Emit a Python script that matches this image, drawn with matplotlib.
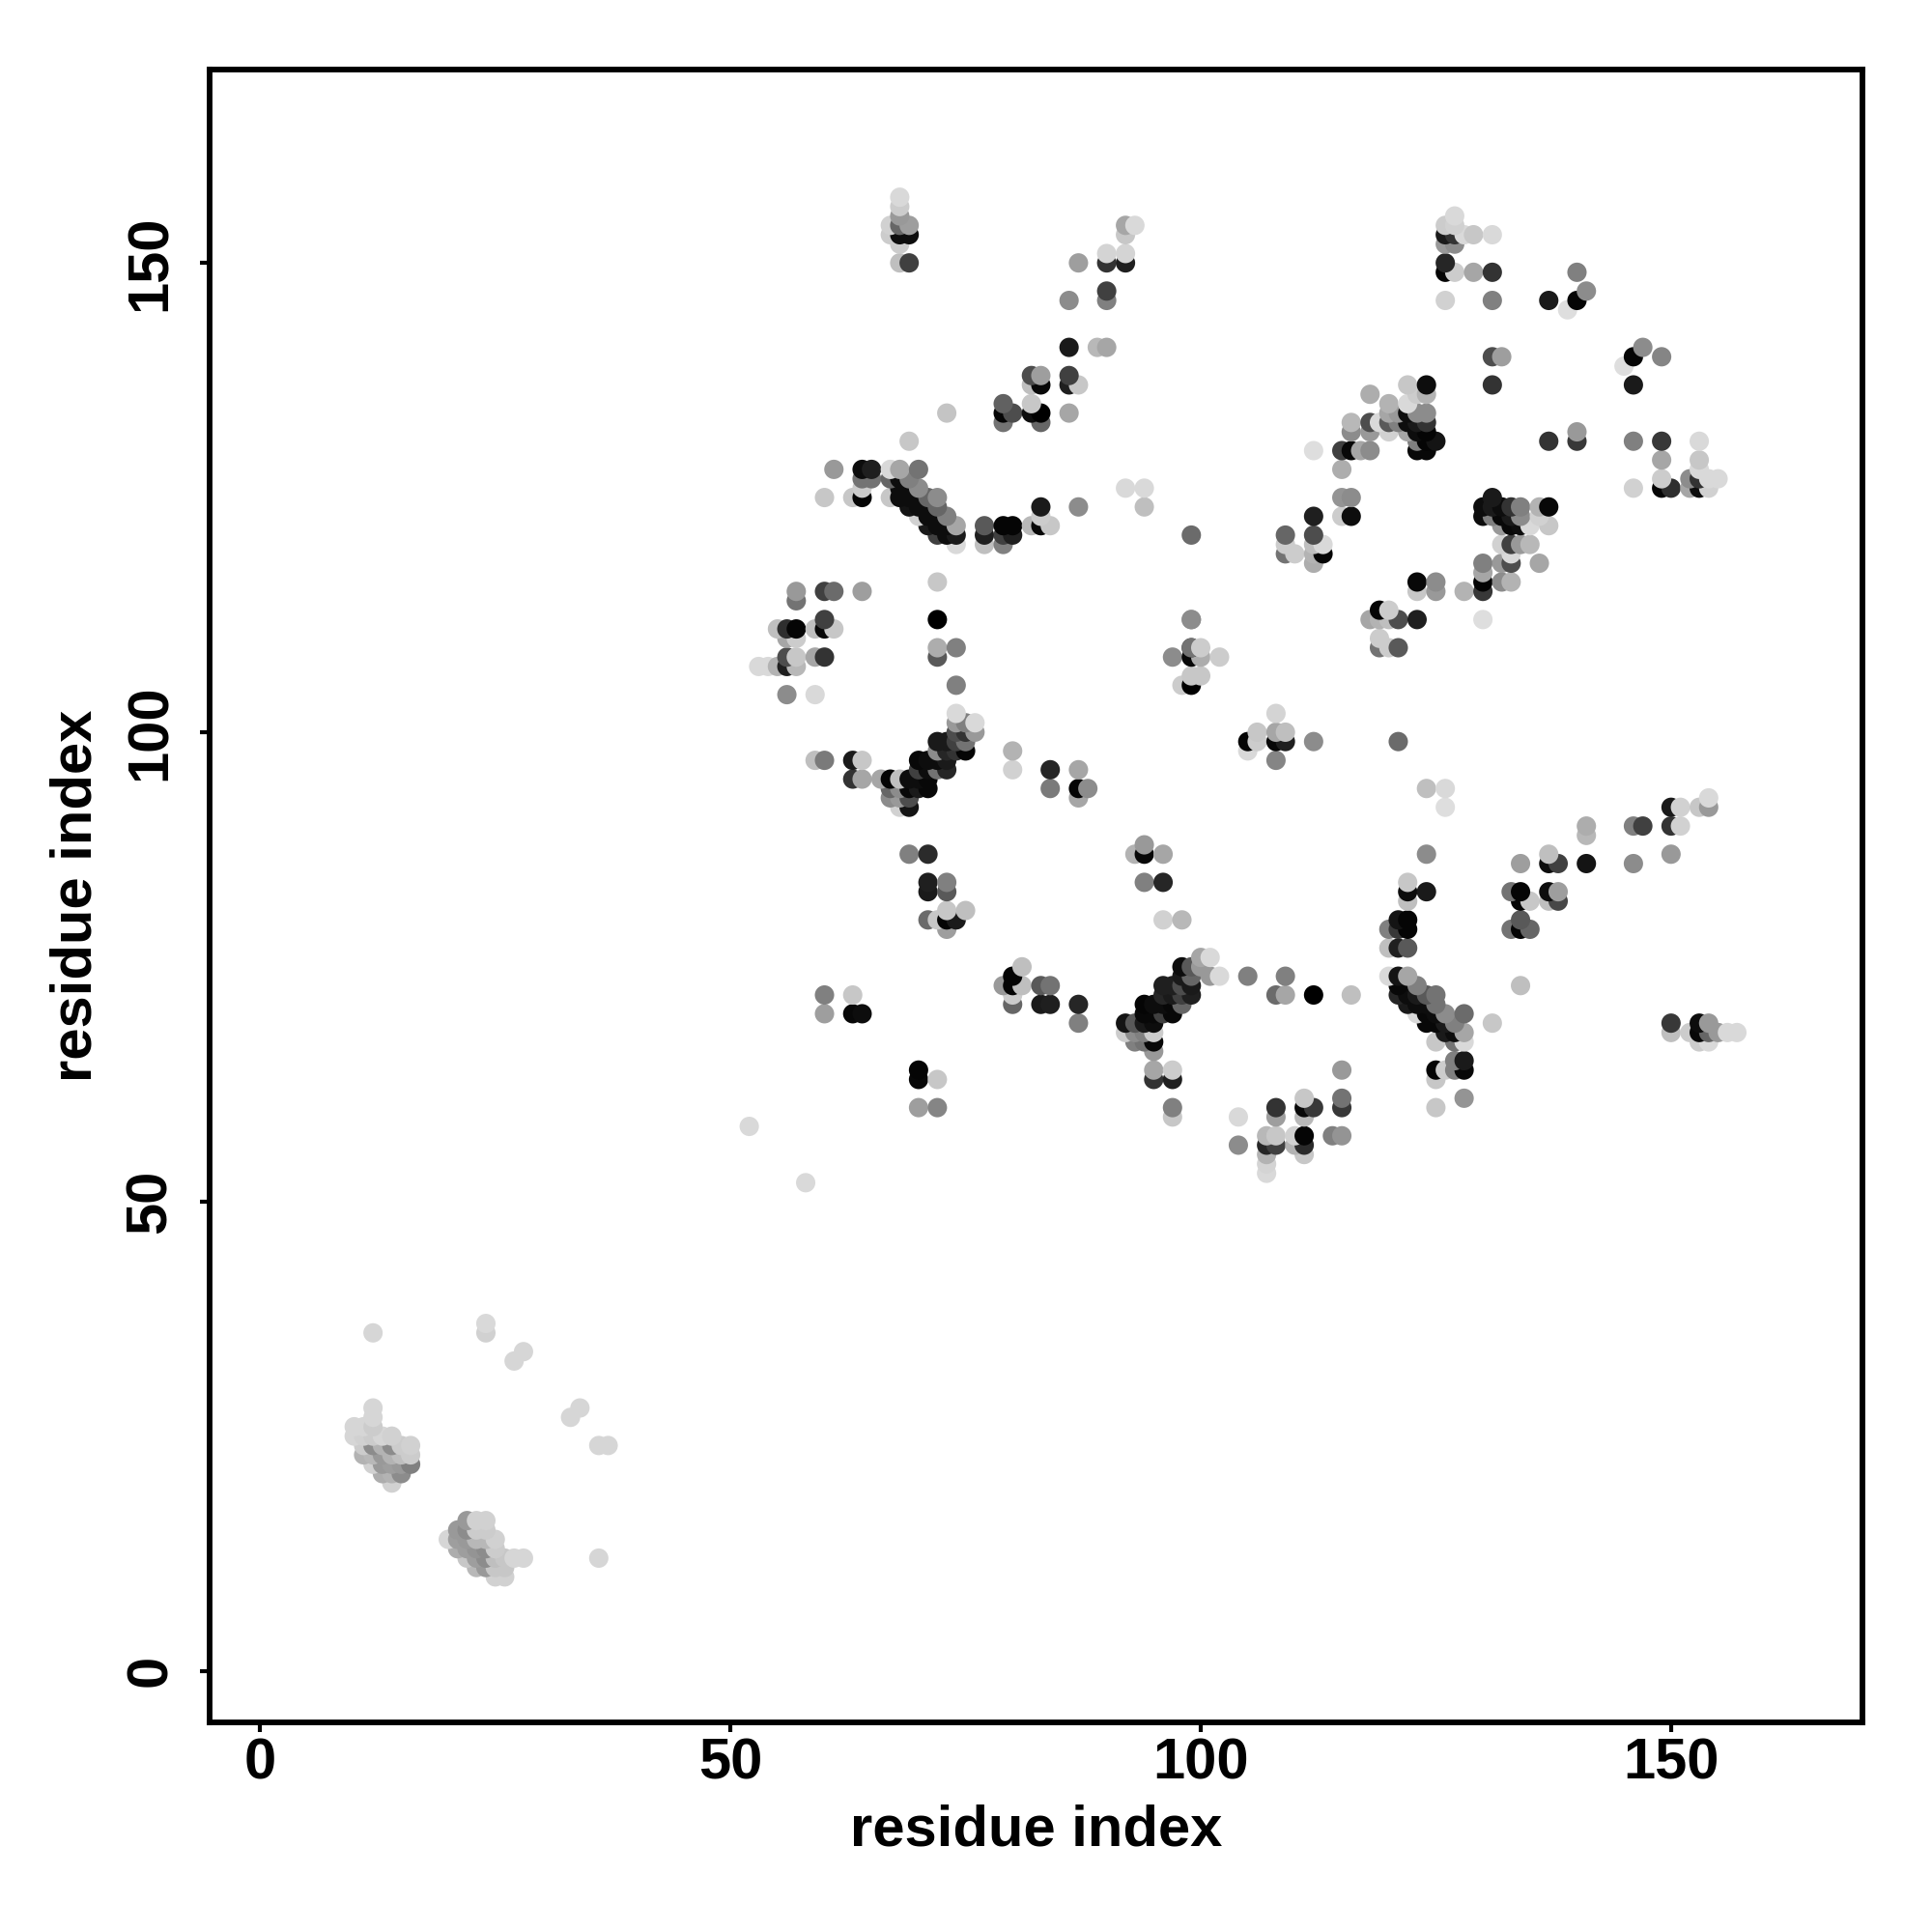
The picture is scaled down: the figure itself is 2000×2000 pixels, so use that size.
import numpy as np
import matplotlib
matplotlib.use("Agg")
import matplotlib.pyplot as plt

plt.rcParams['font.family'] = ['Liberation Sans', 'DejaVu Sans']

# upper region (low residue columns)
row_y_a = [157,156,155,154,153,152,151,150,147,146,141,138,137,135,134,133,131,128,127,126,125,124,123,122,121,120]
row_x_a = [[68],[68],[68],[67,68,69,92,93],[67,68,69,92],[68],[90,92],[68,69,87,90,92],[90],[86,90],[86,89,90],
           [82,83,86],[82,83,86,87],[79,82],[73,79,80,82,83,86],[79,83],[69],[61,64,65,67,68,70],[64,65,67,68,69],
           [64,68,70,92,94],[60,63,64,67,68,69,70,71,72],[69,70,71,72,83,87,94],[70,71,72,73,83],
           [71,72,73,74,77,79,80,82,83,84],[72,73,74,77,79,80],[74,77,79]]
row_g_a = [[.85],[.8],[.6],[.82,.4,.62,.65,.85],[.8,.05,.05,.78],[.8],[.83,.83],[.75,.25,.62,.2,.12],[.25],[.55,.5],[.1,.72,.65],
           [.3,.62,.25],[.75,.03,.12,.78],[.38,.78],[.77,.02,.3,.05,0,.65],[.45,.4],[.78],[.6,.05,.12,.85,.65,.45],[.45,.45,.4,.05,.5],
           [.8,.05,.55,.85,.85],[.78,.78,.02,.78,.05,.05,.05,.4,.55],[.08,.05,.05,.4,.1,.55,.75],[.82,.05,.05,.5,.8],
           [.1,.05,.05,.65,.35,.02,.02,.72,.03,.78],[.25,.05,.1,.12,.25,.12],[.85,.75,.5]]

# middle-left region
row_y_b = [116,115,114,112,111,110,109,108,107,106,105,104,102,101,100,99,98,97,96,95,94,93,92,88,87,84,83,81,80,79,
           75,74,73,72,71,70,69]
row_x_b = [[72],[57,60,61,64],[57],[60,72,99],[55,56,57,59,60,61],[56,57],[72,74,99,100],[56,57,59,60,72,97,99,100,102],
           [53,54,55,56,57],[99,100],[74,98,99],[56,59],[74],[74,75,76],[74,75,76],[72,73,74,75],[72,73,74,75,80],
           [59,60,63,64,70,71,72,73],[70,71,72,73,80,84,87],[63,64,66,67,68,69,70,71],[67,68,69,70,71,84,87,88],[67,68,69,87],
           [68,69],[94],[69,71,93,94,96],[71,73,94,96],[71,73],[73,75],[71,72,73,74,96,98],[73],
           [81,98,99],[80,98,99],[79,80,81,83,84,96,97,98,99],[60,63,80,96,97,98,99],[80,83,84,87,94,95,96,97,98],
           [60,63,64,94,95,96,97],[87,92,93,94,95]]
row_g_b = [[.78],[.6,.25,.42,.62],[.45],[.25,0,.58],[.75,.18,.02,.75,.03,.78],[.65,.8],[.68,.5,.15,.8],[.3,.78,.65,.2,.35,.55,.03,.68,.8],
           [.85,.85,.7,.12,.72],[.78,.78],[.5,.8,0],[.55,.85],[.85],[.6,.5,.85],[.3,.2,.6],[.1,.1,.25,.45],[.55,.15,.2,.02,.7],
           [.75,.48,.1,.78,.03,.05,.05,.1],[.25,.05,.45,.15,.82,.15,.65],[.2,.65,.65,.02,.75,.05,.05,.03],[.4,.55,.03,.1,.03,.48,.02,.55],[.55,.6,.3,.65],
           [.82,.08],[.6],[.5,.17,.7,.03,.65],[.12,.5,.5,.15],[.1,.35],[.78,.75],[.42,.78,.02,.1,.82,.72],[.62],
           [.75,.05,.35],[.02,.1,.4],[.6,.02,.75,.35,.45,.12,.12,.3,.1],[.5,.78,.8,.15,.1,.25,.12],[.4,.1,.12,.15,.02,.05,.05,.03,.4],
           [.62,.03,.05,.03,.03,.25,.03],[.5,.08,.35,.1,.05]]

# lower strip
row_y_c = [68,67,66,65,64,63,61,60,59,58,57,56,55,54,53,52]
row_x_c = [[92,93,94,95,126,127,128,150,152,153,154,155,156,157],[93,94,95,125,127,128,153,154],[95],[127,128],
           [70,95,97,115,125,126,127,128],[70,72,95,97,125],[111,115,128],[70,72,97,108,111,112,115,125],[97,104,108,111],[52],
           [107,108,110,111,114,115],[104,107,108,110,111],[107,111],[107],[107],[58]]
row_g_c = [[.8,.55,.5,.8,.1,.05,.65,.75,.8,.03,.4,.6,.85,.85],[.5,.45,.03,.78,.45,.85,.8,.85],[.6],[.5,.1],
           [.02,.65,.8,.6,.02,.8,.5,.03],[.03,.78,.2,.12,.78],[.78,.45,.58],[.62,.52,.5,.2,.03,.22,.22,.78],[.78,.85,.62,.72],[.85],
           [.72,.78,.82,.02,.5,.58],[.55,.15,.25,.7,.17],[.7,.78],[.83],[.85],[.85]]

# right-hand diagonal and band near y 69-80
row_y_d = [76,75,74,73,72,71,70,69,80,79,77,84,83,82,86,87,90,89,92,93,94,99,100,102,98,97]
row_x_d = [[100,101],[100],[101,102,105,109,120,121,122],[121,123,134],[108,109,112,116,121,122,123,124,125],
           [122,123,124,125],[123,124,125,126,128],[124,125,126,127,131,150,153,154],
           [121,122,134],[120,121,122,133,134,135],[120,121,122],[122],[122,124,133,134,137,138],[122,134,135,137,138],
           [134,137,138,141,146],[124,137,150],[141,146,147,150,151],[141],[126,150,151,153,154],[154],[124,126],
           [105,106,108,109,112,121],[106,108,109],[108],[105],[108]]
row_g_d = [[.65,.85],[.6],[.6,.85,.5,.5,.85,.08,.65],[.03,.5,.75],[.42,.65,0,.75,.15,.05,.1,.35,.45],
           [.1,.05,.05,.45],[.85,.03,.05,.55,.42],[.03,.03,.1,.5,.78,.22,.05,.6],
           [.08,.02,.35],[.5,.22,.02,.45,.02,.4],[.75,.12,.35],[.78],[.05,.1,.45,.02,.05,.62],[.75,.02,.78,.75,.28],
           [.62,.05,.25,.08,.55],[.55,.75,.6],[.68,.5,.25,.2,.82],[.72],[.87,.1,.82,.78,.6],[.85],[.75,.85],
           [.02,.8,.03,.12,.55,.42],[.78,.65,.75],[.83],[.85],[.52]]

# upper-right region
row_y_e = [155,154,153,152,150,149,147,146,145,141,140,139,137,136,135,134,133,132,131,130,129,128,127,126,125,124,123,122,121,120,119,118,117,116,115,113,112,110,109]
row_x_e = [[127],[126,127],[126,127,128,129,131],[126,127],[126],[126,127,129,131,140],[141],[126,131,137,140],[139],[147],
           [131,132,146,149],[145],[122,124,131,146],[118,123,124],[120,122],[120,121,122,123,124],
           [116,118,119,120,121,122,123,124],[116,118,120,122,123,124,140],[123,124,125,137,140,146,149,153],
           [112,115,116,117,118,123,124],[149,153],[115,153],[149,152,153,154,155],[146,149,150,152,153,154],
           [115,116,131],[130,131,132,133,134,136,137],[112,115,116,130,131,132,133,134,136],[132,133,134,135,137],
           [99,109,112],[109,112,113,132,133,134,135],[109,110,112,113,133],[112,130,132,133,136],[130],
           [123,125,130,132,133],[123,125,128,130],[119,120],[99,118,119,120,121,123,130],[119],[99,119,120,121]]
row_g_e = [[.85],[.8,.82],[.1,.2,.85,.78,.85],[.6,.55],[.15],[.02,.8,.65,.2,.5],[.55],[.82,.5,.1,.02],[.87],[.55],
           [.3,.62,.02,.52],[.87],[.78,.05,.2,.1],[.68,.8,.7],[.7,.85],[.65,.6,.05,.55,.55],
           [.72,.3,.85,.35,.5,.05,.1,.2],[.55,.6,.82,.65,.05,.02,.6],[.5,.02,.08,.2,.22,.5,.22,.85],
           [.87,.25,.03,.65,.55,.03,.03],[.65,.78],[.68,.85],[.8,.55,.2,.85,.85],[.82,.02,.18,.65,.05,.82],
           [.58,.55,.1],[.05,.1,.05,.2,.5,.7,.03],[.12,.8,.05,.05,.5,.03,.1,.55,.82],[.6,.03,.05,.85,.78],
           [.42,.4,.3],[.8,.75,.85,.82,.25,.6,.72],[.45,.8,.7,.02,.85],[.68,.5,.6,.3,.65],[.65],
           [.03,.55,.02,.55,.7],[.78,.6,.7,.22],[.02,.8],[.55,.65,.7,.75,.3,.12,.87],[.8],[.45,.45,.8,.35]]

# lower-left clusters
row_y_f = [37,36,34,33,28,27,26,25,24,23,22,21,20,16,15,14,13,12,11,10]
row_x_f = [[24],[12,24],[28],[27],[12,34],[12,33],[10,11,12],[10,11,12,13,14],[11,12,13,14,15,16,36,37],[11,12,13,14,15,16],
           [12,13,14,15,16],[13,14,15],[14],[22,23,24],[21,22,23,24],[20,21,22,23,24,25],[21,22,23,24,25],
           [22,23,24,25,26,27,28,36],[23,24,25,26],[25,26]]
row_g_f = [[.85],[.84,.82],[.84],[.84],[.84,.84],[.84,.84],[.84,.84,.8],[.84,.82,.8,.84,.82],[.8,.55,.7,.55,.8,.82,.84,.84],[.7,.72,.6,.7,.75,.8],
           [.82,.6,.62,.6,.5],[.68,.7,.55],[.82],[.6,.82,.82],[.6,.55,.8,.8],[.84,.62,.6,.72,.72,.82],[.68,.62,.58,.55,.8],
           [.78,.62,.55,.75,.78,.84,.84,.84],[.72,.6,.78,.78],[.82,.82]]

tick_values = [0, 50, 100, 150]
axis_label = "residue index"

row_y = row_y_a + row_y_b + row_y_c + row_y_d + row_y_e + row_y_f
row_x = row_x_a + row_x_b + row_x_c + row_x_d + row_x_e + row_x_f
row_g = row_g_a + row_g_b + row_g_c + row_g_d + row_g_e + row_g_f

xs, ys, gs = [], [], []
for y, rx, rg in zip(row_y, row_x, row_g):
    assert len(rx) == len(rg), (y, rx, rg)
    xs += rx
    ys += [y] * len(rx)
    gs += rg
xs, ys, gs = np.array(xs), np.array(ys), np.array(gs)
order = np.lexsort((xs, ys))
xs, ys, gs = xs[order], ys[order], gs[order]

fig = plt.figure(figsize=(10, 10), dpi=200)
ax = fig.add_axes([217/2000, 1-1783/2000, (1928-217)/2000, (1783-72)/2000])
ax.scatter(xs, ys, s=52, c=[(g, g, g) for g in gs], linewidths=0, zorder=2)
ax.set_xlim(-5.37, 170.35)
ax.set_ylim(-5.5, 170.6)
ax.set_xticks(tick_values)
ax.set_yticks(tick_values)
ax.set_xticklabels([str(t) for t in tick_values], fontsize=21.5, fontweight='bold')
ax.set_yticklabels([str(t) for t in tick_values], fontsize=21.5, fontweight='bold', rotation=90, va='center')
ax.tick_params(axis='x', length=3.5, width=1.5, pad=2)
ax.tick_params(axis='y', length=3.5, width=1.5, pad=8.5)
ax.set_xlabel(axis_label, fontsize=21.5, fontweight='bold', labelpad=5)
ax.set_ylabel(axis_label, fontsize=21.5, fontweight='bold', labelpad=8)
for s in ax.spines.values():
    s.set_linewidth(2.1)
fig.savefig("out.png", dpi=200)
